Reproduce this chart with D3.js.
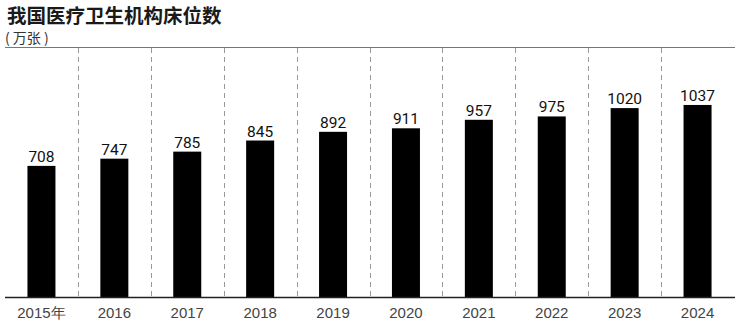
<!DOCTYPE html>
<html>
<head>
<meta charset="utf-8">
<script src="https://cdn.jsdelivr.net/npm/d3@7"></script>
<style>
  body { margin: 0; background: #fff; }
  svg { display: block; }
</style>
</head>
<body>
<script>
const years = ['2015', '2016', '2017', '2018', '2019', '2020', '2021', '2022', '2023', '2024'];
const tickLabels = ['2015年', '2016', '2017', '2018', '2019', '2020', '2021', '2022', '2023', '2024'];
const beds = [708, 747, 785, 845, 892, 911, 957, 975, 1020, 1037];

const width = 740;
const height = 322;
const plotTop = 47;
const plotBottom = 297;

const svg = d3.select('body')
  .append('svg')
  .attr('width', width)
  .attr('height', height);

// scales
const x = d3.scaleBand()
  .domain(years)
  .range([5, 734])
  .padding(0);

const y = d3.scaleLinear()
  .domain([0, 1350])
  .range([plotBottom, plotTop]);

const barW = 28;

// title
svg.append('text')
  .attr('x', 7)
  .attr('y', 23)
  .attr('font-family', '"Noto Sans CJK SC", sans-serif')
  .attr('font-size', 19.5)
  .attr('font-weight', 'bold')
  .attr('fill', '#1a1a1a')
  .text('我国医疗卫生机构床位数');

svg.append('text')
  .attr('x', 5)
  .attr('y', 43)
  .attr('font-family', '"Noto Sans CJK SC", sans-serif')
  .attr('font-size', 14)
  .attr('fill', '#333')
  .style('white-space', 'pre')
  .text('( 万张 )');

// top rule
svg.append('line')
  .attr('x1', 5).attr('x2', 735)
  .attr('y1', plotTop + 0.5).attr('y2', plotTop + 0.5)
  .attr('stroke', '#777')
  .attr('stroke-width', 1.2);

// dashed separators
svg.selectAll('line.sep')
  .data(years.slice(1))
  .enter()
  .append('line')
  .attr('class', 'sep')
  .attr('x1', d => Math.round(x(d)) + 0.5)
  .attr('x2', d => Math.round(x(d)) + 0.5)
  .attr('y1', plotTop + 1)
  .attr('y2', plotBottom)
  .attr('stroke', '#999')
  .attr('stroke-width', 1)
  .attr('stroke-dasharray', '5,4');

// bars
svg.selectAll('rect.bar')
  .data(beds)
  .enter()
  .append('rect')
  .attr('class', 'bar')
  .attr('x', (d, i) => x(years[i]) + (x.bandwidth() - barW) / 2)
  .attr('y', d => y(d))
  .attr('width', barW)
  .attr('height', d => plotBottom - y(d))
  .attr('fill', '#000');

// value labels
svg.selectAll('text.val')
  .data(beds)
  .enter()
  .append('text')
  .attr('class', 'val')
  .attr('x', (d, i) => x(years[i]) + x.bandwidth() / 2)
  .attr('y', d => y(d) - 4)
  .attr('text-anchor', 'middle')
  .attr('font-family', 'Roboto, sans-serif')
  .attr('font-size', 15.5)
  .attr('fill', '#111')
  .text(d => d);

// x axis
const xAxis = d3.axisBottom(x)
  .tickSize(0)
  .tickPadding(10)
  .tickFormat((d, i) => tickLabels[i]);

const gx = svg.append('g')
  .attr('transform', `translate(0, ${plotBottom})`)
  .call(xAxis);

gx.select('.domain')
  .attr('d', 'M5,0.5H735')
  .attr('stroke', '#222')
  .attr('stroke-width', 1.5);

gx.selectAll('text')
  .attr('font-family', '"Liberation Sans", Arial, sans-serif')
  .attr('font-size', 15)
  .attr('fill', '#444');
</script>
</body>
</html>
